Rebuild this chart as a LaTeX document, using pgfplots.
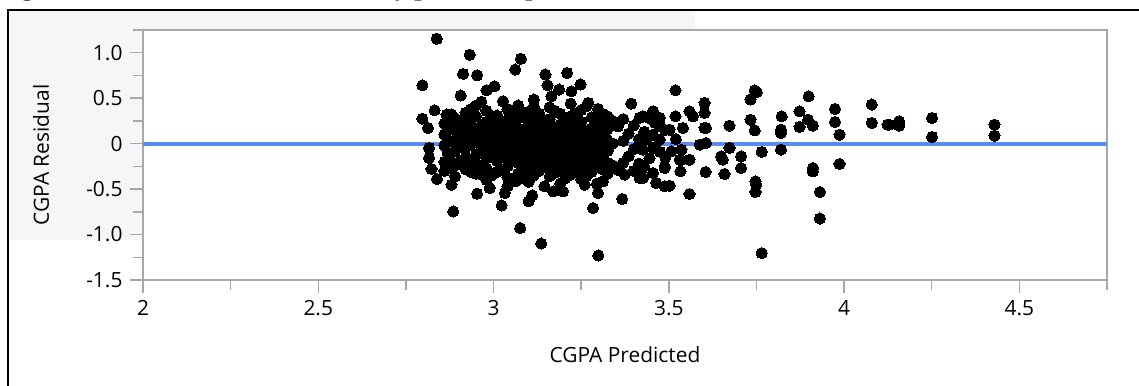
\documentclass[border=0pt]{standalone}
\usepackage{pgfplots}
\pgfplotsset{compat=1.18}
\usepackage{pgfplotstable}
\usepackage{fontspec}
\setmainfont{Open Sans}
\newfontfamily\titlefont{Liberation Serif}
\definecolor{fitblue}{RGB}{90,140,240}
\definecolor{axgray}{RGB}{168,168,168}
\definecolor{bggray}{RGB}{246,246,246}

\pgfplotstableread{
x y
2.838 1.153
2.932 0.977
2.797 0.642
2.913 0.768
2.953 0.752
3.078 0.933
3.062 0.815
3.148 0.760
3.210 0.778
3.154 0.642
3.248 0.650
3.393 0.440
3.115 0.485
3.003 0.631
2.980 0.587
2.906 0.529
2.832 0.367
2.797 0.275
2.813 0.173
2.866 0.320
2.880 0.320
3.027 0.466
3.041 0.374
3.075 0.356
3.118 0.356
3.165 0.521
3.187 0.595
3.222 0.576
3.270 0.448
3.298 0.382
3.341 0.246
3.417 0.283
2.816 -0.047
2.816 -0.157
2.869 -0.100
2.823 -0.279
2.839 -0.389
2.880 -0.452
2.885 -0.746
2.953 -0.551
2.989 -0.488
3.023 -0.680
3.032 -0.543
3.076 -0.929
3.136 -1.098
3.100 -0.635
3.110 -0.569
3.063 -0.415
3.170 -0.525
3.198 -0.525
3.260 -0.452
3.284 -0.708
3.298 -0.543
3.312 -0.415
3.299 -1.230
3.367 -0.609
3.374 -0.341
3.417 -0.378
2.941 -0.320
2.966 -0.341
3.519 0.587
3.602 0.448
3.745 0.587
3.751 0.565
3.733 0.485
3.899 0.521
3.974 0.382
4.079 0.430
4.079 0.228
4.124 0.209
3.974 0.239
3.987 0.099
3.873 0.356
3.897 0.264
3.911 0.198
3.873 0.184
3.822 0.301
3.820 0.154
3.820 0.118
3.820 -0.066
3.765 -0.091
3.733 0.264
3.745 0.146
3.673 0.198
3.519 0.301
3.559 0.356
3.569 0.301
3.602 0.338
3.602 0.173
3.606 0.173
3.540 0.173
3.502 0.154
3.455 0.356
3.426 0.301
3.474 0.283
3.455 0.099
3.436 0.044
3.474 0.044
3.588 -0.011
3.606 0.007
3.673 -0.047
3.706 -0.140
3.649 -0.140
3.654 -0.176
3.911 -0.268
3.987 -0.224
3.507 -0.085
3.536 -0.066
3.559 -0.176
3.531 -0.176
3.488 -0.250
3.455 -0.047
3.426 -0.066
3.911 -0.305
3.931 -0.532
3.931 -0.823
3.747 -0.415
3.749 -0.450
3.747 -0.532
3.765 -1.204
3.706 -0.268
3.659 -0.334
3.605 -0.312
3.559 -0.554
3.533 -0.305
3.533 -0.184
3.488 -0.268
3.464 -0.433
3.502 -0.463
3.488 -0.470
3.426 -0.378
3.455 -0.323
3.422 -0.286
4.129 0.209
4.157 0.246
4.157 0.198
4.251 0.283
4.251 0.074
4.429 0.209
4.429 0.088
2.86 0.22
2.86 0.10
2.86 -0.02
2.86 -0.20
2.86 -0.30
2.89 0.28
2.89 0.15
2.89 0.04
2.89 -0.08
2.89 -0.24
2.89 -0.36
2.92 0.34
2.92 0.20
2.92 0.08
2.92 -0.05
2.92 -0.15
2.92 -0.28
2.95 0.42
2.95 0.30
2.95 0.16
2.95 0.02
2.95 -0.12
2.95 -0.22
2.95 -0.33
2.98 0.36
2.98 0.24
2.98 0.11
2.98 -0.03
2.98 -0.16
2.98 -0.27
2.98 -0.40
3.01 0.31
3.01 0.19
3.01 0.06
3.01 -0.07
3.01 -0.19
3.01 -0.31
3.04 0.38
3.04 0.26
3.04 0.13
3.04 0.00
3.04 -0.12
3.04 -0.25
3.04 -0.37
3.04 -0.47
3.07 0.42
3.07 0.28
3.07 0.17
3.07 0.05
3.07 -0.09
3.07 -0.21
3.07 -0.33
3.10 0.35
3.10 0.22
3.10 0.10
3.10 -0.03
3.10 -0.15
3.10 -0.28
3.10 -0.42
3.13 0.33
3.13 0.19
3.13 0.07
3.13 -0.06
3.13 -0.18
3.13 -0.30
3.16 0.40
3.16 0.27
3.16 0.14
3.16 0.01
3.16 -0.11
3.16 -0.24
3.16 -0.36
3.19 0.33
3.19 0.21
3.19 0.09
3.19 -0.04
3.19 -0.17
3.19 -0.29
3.19 -0.44
3.22 0.44
3.22 0.30
3.22 0.16
3.22 0.03
3.22 -0.09
3.22 -0.22
3.22 -0.34
3.25 0.37
3.25 0.24
3.25 0.11
3.25 -0.02
3.25 -0.14
3.25 -0.27
3.25 -0.39
3.28 0.29
3.28 0.17
3.28 0.05
3.28 -0.08
3.28 -0.20
3.28 -0.31
3.31 0.33
3.31 0.20
3.31 0.08
3.31 -0.05
3.31 -0.17
3.31 -0.28
3.34 0.24
3.34 0.00
3.34 -0.24
3.37 0.27
3.37 0.03
3.37 -0.21
3.40 0.20
3.40 -0.06
3.40 -0.30
3.43 0.13
3.43 -0.25
3.46 0.23
3.46 -0.04
3.49 0.15
3.49 -0.15
3.52 0.05
2.875 0.30
2.875 0.17
2.875 0.03
2.875 -0.13
2.875 -0.26
2.905 0.25
2.905 0.11
2.905 -0.02
2.905 -0.19
2.935 0.38
2.935 0.26
2.935 0.12
2.935 -0.01
2.935 -0.19
2.935 -0.31
2.965 0.46
2.965 0.20
2.965 0.07
2.965 -0.07
2.965 -0.25
2.995 0.29
2.995 0.15
2.995 0.01
2.995 -0.12
2.995 -0.35
3.025 0.22
3.025 0.09
3.025 -0.04
3.025 -0.15
3.025 -0.29
3.055 0.34
3.055 0.21
3.055 0.08
3.055 -0.05
3.055 -0.18
3.055 -0.40
3.085 0.31
3.085 0.13
3.085 -0.01
3.085 -0.13
3.085 -0.26
3.085 -0.38
3.115 0.41
3.115 0.27
3.115 0.14
3.115 0.00
3.115 -0.11
3.115 -0.23
3.115 -0.35
3.145 0.25
3.145 0.11
3.145 -0.02
3.145 -0.14
3.145 -0.26
3.145 -0.47
3.175 0.36
3.175 0.18
3.175 0.04
3.175 -0.08
3.175 -0.20
3.175 -0.32
3.205 0.26
3.205 0.13
3.205 -0.01
3.205 -0.12
3.205 -0.25
3.205 -0.38
3.235 0.33
3.235 0.20
3.235 0.07
3.235 -0.06
3.235 -0.18
3.235 -0.30
3.265 0.41
3.265 0.14
3.265 0.01
3.265 -0.11
3.265 -0.23
3.265 -0.36
3.295 0.26
3.295 0.12
3.295 -0.01
3.295 -0.14
3.295 -0.26
3.295 -0.44
3.325 0.30
3.325 0.16
3.325 0.04
3.325 -0.08
3.325 -0.21
3.325 -0.33
3.355 0.19
3.355 -0.29
3.385 0.11
3.385 -0.14
3.415 0.05
3.415 -0.22
3.445 0.28
3.445 -0.16
3.475 0.19
3.475 -0.09
}\resid

\begin{document}
\begin{tikzpicture}[x=1bp,y=1bp]
\useasboundingbox (0,0) rectangle (1139,385);
\clip (0,0) rectangle (1139,385);
\fill[bggray] (10,145) rectangle (695,374);
\draw[black, line width=2.2bp] (8,-5) -- (8,375) -- (1150,375);
\node[anchor=base west, inner sep=0, font=\titlefont\bfseries\fontsize{26}{30}\selectfont] at (-2,389.5) {Figure 4.12: Studentized Residual by predicted plot for CGPA};
\begin{axis}[
  at={(143bp,105bp)}, anchor=south west,
  scale only axis, width=964bp, height=250bp,
  xmin=2, xmax=4.75, ymin=-1.5, ymax=1.25,
  axis background/.style={fill=white},
  xtick={2,2.5,3,3.5,4,4.5},
  xticklabels={2,2.5,3,3.5,4,4.5},
  minor xtick={2.25,2.75,3.25,3.75,4.25,4.75},
  ytick={-1.5,-1,-0.5,0,0.5,1},
  yticklabels={-1.5,-1.0,-0.5,0,0.5,1.0},
  minor ytick={-1.25,-0.75,-0.25,0.25,0.75,1.25},
  xtick pos=bottom, ytick pos=left,
  tick align=outside,
  major tick length=13bp, minor tick length=10bp,
  axis line style={axgray, line width=2bp},
  every tick/.style={axgray, line width=1.5bp},
  tick label style={font=\fontsize{21}{24}\selectfont, text=black},
  xticklabel style={yshift=-4bp},
  yticklabel style={xshift=-4bp},
  clip=true,
]
\addplot[fitblue, line width=4bp] coordinates {(2,0) (4.75,0)};
\addplot[only marks, mark=*, mark size=5.6bp, mark options={fill=black, draw=black, line width=0pt}] table[x=x, y=y] {\resid};
\end{axis}
\node[font=\fontsize{21}{24}\selectfont] at (625,30) {CGPA Predicted};
\node[rotate=90, font=\fontsize{21}{24}\selectfont] at (41,230) {CGPA Residual};
\end{tikzpicture}
\end{document}
